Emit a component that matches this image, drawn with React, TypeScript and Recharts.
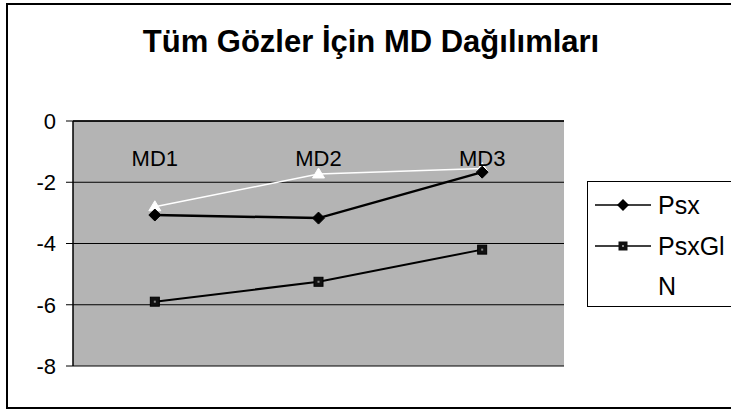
import React from 'react';
import { LineChart, Line, XAxis, YAxis, CartesianGrid, Legend } from 'recharts';

const categories = ['MD1', 'MD2', 'MD3'];
const psx = [-3.07, -3.17, -1.67];
const psxGl = [-5.9, -5.25, -4.2];
const nSeries = [-2.8, -1.73, -1.55];
const yTicks = [0, -2, -4, -6, -8];

const data = categories.map((c, i) => ({ cat: c, Psx: psx[i], PsxGl: psxGl[i], N: nSeries[i] }));

const FONT = '"Liberation Sans", Arial, sans-serif';

const Diamond = (props: any) => {
  const { cx, cy } = props;
  if (cx == null || cy == null) return null;
  return <path d={`M${cx},${cy - 6} L${cx + 6},${cy} L${cx},${cy + 6} L${cx - 6},${cy} Z`} fill="#000" stroke="#000" strokeWidth={1} />;
};
const Square = (props: any) => {
  const { cx, cy } = props;
  if (cx == null || cy == null) return null;
  return (
    <g>
      <rect x={cx - 4.5} y={cy - 4.5} width={9} height={9} fill="#111" stroke="#000" />
      <rect x={cx - 1} y={cy - 1} width={2} height={2} fill="#888" />
    </g>
  );
};
const Triangle = (props: any) => {
  const { cx, cy } = props;
  if (cx == null || cy == null) return null;
  return <path d={`M${cx},${cy - 6} L${cx + 6},${cy + 4} L${cx - 6},${cy + 4} Z`} fill="#fff" stroke="#fff" strokeWidth={1} />;
};

const CatTick = (props: any) => {
  const { x, y, payload } = props;
  return (
    <text x={x} y={y + 53} textAnchor="middle" fontFamily={FONT} fontSize={22} fill="#000">
      {payload.value}
    </text>
  );
};

const LegendBox = () => {
  const items = [
    { name: 'Psx', kind: 'diamond', cy: 204 },
    { name: 'PsxGl', kind: 'square', cy: 245 },
    { name: 'N', kind: 'none', cy: 285 },
  ];
  return (
    <div style={{ width: 170, height: 126, border: '1px solid #000', background: '#fff', boxSizing: 'border-box', position: 'relative' }}>
      {items.map((it) => (
        <div key={it.name} style={{ position: 'absolute', left: 7, top: it.cy - 181 - 15, height: 30, display: 'flex', alignItems: 'center' }}>
          <svg width={56} height={20} style={{ display: 'block' }}>
            {it.kind !== 'none' && <line x1={0} y1={10} x2={56} y2={10} stroke="#000" strokeWidth={1.5} />}
            {it.kind === 'diamond' && <path d="M28,4 L34,10 L28,16 L22,10 Z" fill="#000" />}
            {it.kind === 'square' && (
              <g>
                <rect x={23.5} y={5.5} width={9} height={9} fill="#111" />
                <rect x={27} y={9} width={2} height={2} fill="#888" />
              </g>
            )}
          </svg>
          <span style={{ fontFamily: FONT, fontSize: 25, marginLeft: 7, color: '#000', lineHeight: '30px' }}>{it.name}</span>
        </div>
      ))}
    </div>
  );
};

export default function App() {
  return (
    <div style={{ position: 'absolute', left: 0, top: 0, width: 731, height: 412, overflow: 'hidden', background: '#fff' }}>
      <div style={{ position: 'absolute', left: 6, top: 3, width: 760, height: 402, border: '2px solid #000' }} />
      <div style={{ position: 'absolute', left: 0, top: 24, width: 742, textAlign: 'center', fontFamily: FONT, fontWeight: 'bold', fontSize: 31, color: '#000', whiteSpace: 'nowrap' }}>
        Tüm Gözler İçin MD Dağılımları
      </div>
      <div style={{ position: 'absolute', left: 0, top: 0 }}>
        <LineChart width={731} height={412} data={data} margin={{ top: 91, right: 167, bottom: 46, left: 0 }}>
          <CartesianGrid vertical={false} horizontal={true} stroke="#000" strokeWidth={1} fill="#b4b4b4" fillOpacity={1} />
          <XAxis
            dataKey="cat"
            orientation="top"
            height={30}
            scale="band"
            axisLine={{ stroke: '#000', strokeWidth: 1.5 }}
            tickLine={false}
            tick={<CatTick />}
            interval={0}
          />
          <YAxis
            domain={[-8, 0]}
            ticks={yTicks}
            width={73}
            axisLine={{ stroke: '#000', strokeWidth: 1.5 }}
            tickLine={{ stroke: '#000' }}
            tickSize={7}
            tickMargin={10}
            tick={{ fontFamily: FONT, fontSize: 22, fill: '#000' }}
            interval={0}
          />
          <YAxis yAxisId="r" orientation="right" width={0} tick={false} tickLine={false} axisLine={{ stroke: '#000', strokeWidth: 1.5 }} domain={[-8, 0]} />
          <Legend
            layout="horizontal"
            verticalAlign="middle"
            align="center"
            wrapperStyle={{ position: 'absolute', left: 587, top: 181, width: 170, height: 126 }}
            content={<LegendBox />}
          />
          <Line dataKey="N" stroke="#fff" strokeWidth={1.5} dot={<Triangle />} isAnimationActive={false} />
          <Line dataKey="Psx" stroke="#000" strokeWidth={2.5} dot={<Diamond />} isAnimationActive={false} />
          <Line dataKey="PsxGl" stroke="#000" strokeWidth={2} dot={<Square />} isAnimationActive={false} />
        </LineChart>
      </div>
    </div>
  );
}
